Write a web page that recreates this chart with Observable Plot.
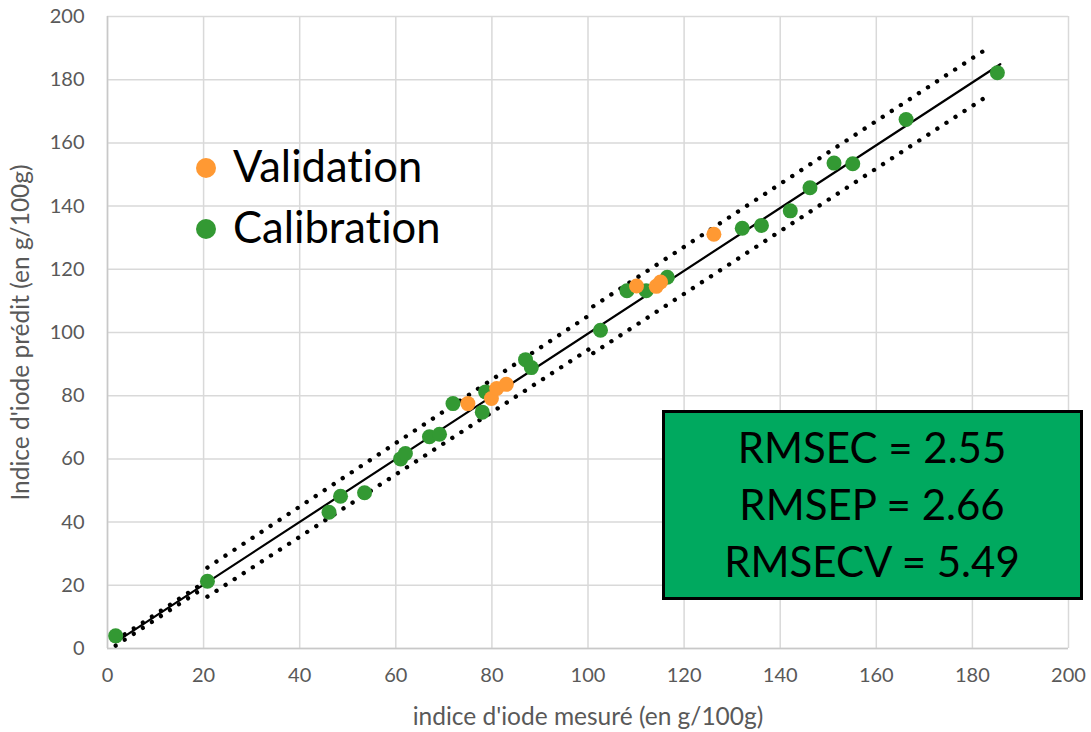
<!DOCTYPE html>
<html>
<head>
<meta charset="utf-8">
<script src="https://cdn.jsdelivr.net/npm/d3@7"></script>
<script src="https://cdn.jsdelivr.net/npm/@observablehq/plot@0.6"></script>
<style>
  html, body { margin: 0; padding: 0; background: #fff; }
  #wrap { position: relative; width: 1091px; height: 732px; }
  #wrap svg, #wrap svg text {
    font-variant-ligatures: none;
    font-feature-settings: "liga" 0, "clig" 0, "dlig" 0;
  }
  #wrap svg.overlay { position: absolute; left: 0; top: 0; pointer-events: none; }
</style>
</head>
<body>
<div id="wrap"></div>
<script>
// Calibration samples: measured vs predicted iodine value (g/100g)
const calMeasured  = [1.7, 20.8, 46.1, 48.5, 53.5, 61.0, 62.0, 67.0, 69.1, 71.9, 78.0, 78.7, 87.0, 88.2,
                      102.6, 108.1, 112.1, 116.5, 132.1, 136.1, 142.1, 146.2, 151.2, 155.1, 166.2, 185.2];
const calPredicted = [4.0, 21.3, 43.1, 48.2, 49.3, 60.0, 61.7, 67.0, 67.8, 77.5, 74.8, 81.2, 91.4, 88.9,
                      100.7, 113.2, 113.2, 117.5, 133.0, 133.9, 138.5, 145.8, 153.6, 153.4, 167.4, 182.2];

// Validation samples
const valMeasured  = [75.0, 79.9, 81.0, 83.0, 110.1, 114.2, 115.1, 126.2];
const valPredicted = [77.5, 79.1, 82.3, 83.6, 114.7, 114.6, 116.0, 131.1];

// Regression line endpoints
const fitX = [1.7, 185.8];
const fitY = [2.0, 184.9];

// Dotted confidence band, drawn as straight pieces (x1, y1) -> (x2, y2)
const bandX1 = [1.7, 1.7, 20.8, 20.8, 101.1, 101.1];
const bandY1 = [2.6, 0.9, 25.6, 16.4, 108.3, 93.5];
const bandX2 = [19.8, 19.8, 100.2, 100.2, 183.1, 183.1];
const bandY2 = [20.6, 18.9, 105.4, 94.7, 189.9, 174.8];

const ticks = [0, 20, 40, 60, 80, 100, 120, 140, 160, 180, 200];

const seriesNames = ["Validation", "Calibration"];
const seriesColors = ["#ff9933", "#339933"];
const statLines = ["RMSEC = 2.55", "RMSEP = 2.66", "RMSECV = 5.49"];

const xLabel = "indice d'iode mesuré (en g/100g)";
const yLabel = "Indice d'iode prédit (en g/100g)";

const calibration = calMeasured.map((x, i) => ({x, y: calPredicted[i]}));
const validation = valMeasured.map((x, i) => ({x, y: valPredicted[i]}));
const fit = fitX.map((x, i) => ({x, y: fitY[i]}));
const band = bandX1.map((x1, i) => ({x1, y1: bandY1[i], x2: bandX2[i], y2: bandY2[i]}));

const W = 1091, H = 732;
const font = "Lato, 'Open Sans', sans-serif";
const grey = "#595959";

const chart = Plot.plot({
  width: W,
  height: H,
  marginLeft: 107,
  marginRight: 23,
  marginTop: 16,
  marginBottom: 84,
  style: {fontFamily: font, background: "#fff", overflow: "visible"},
  x: {domain: [0, 200], ticks},
  y: {domain: [0, 200], ticks},
  marks: [
    Plot.gridX(ticks, {stroke: "#d9d9d9", strokeOpacity: 1, strokeWidth: 1.5}),
    Plot.gridY(ticks, {stroke: "#d9d9d9", strokeOpacity: 1, strokeWidth: 1.5}),
    Plot.ruleX([0], {stroke: "#c8c8c8", strokeWidth: 1.5}),
    Plot.ruleY([0], {stroke: "#c8c8c8", strokeWidth: 1.5}),
    Plot.axisX(ticks, {tickSize: 0, tickPadding: 19, fontSize: 20, fill: grey, label: null}),
    Plot.axisY(ticks, {tickSize: 0, tickPadding: 23, fontSize: 20, fill: grey, label: null}),
    Plot.text([xLabel], {frameAnchor: "bottom", dy: 69, textAnchor: "middle", lineAnchor: "middle",
                         fontSize: 24.5, fill: grey}),
    Plot.text([yLabel], {frameAnchor: "left", dx: -86, rotate: -90, textAnchor: "middle", lineAnchor: "middle",
                         fontSize: 24.5, fill: grey}),
    Plot.link(band, {x1: "x1", y1: "y1", x2: "x2", y2: "y2", stroke: "#000", strokeWidth: 4.4,
                     strokeDasharray: "0.01 10.8", strokeLinecap: "round"}),
    Plot.line(fit, {x: "x", y: "y", stroke: "#000", strokeWidth: 2.2}),
    Plot.dot(calibration, {x: "x", y: "y", r: 7.5, fill: seriesColors[1]}),
    Plot.dot(validation, {x: "x", y: "y", r: 7.5, fill: seriesColors[0]})
  ]
});

const wrap = document.getElementById("wrap");
wrap.appendChild(chart);

// Legend and statistics box drawn on top of the chart
const over = d3.select(wrap).append("svg")
  .attr("class", "overlay")
  .attr("width", W).attr("height", H)
  .style("font-family", font);

const legend = over.append("g");
seriesNames.forEach((name, i) => {
  const cy = 168 + i * 61;
  legend.append("circle").attr("cx", 206).attr("cy", cy).attr("r", 10).attr("fill", seriesColors[i]);
  legend.append("text").attr("x", 233).attr("y", cy + 14)
    .attr("font-size", 43.5).attr("fill", "#000").text(name);
});

const box = over.append("g");
box.append("rect").attr("x", 663.5).attr("y", 411.5).attr("width", 418).attr("height", 187)
  .attr("fill", "#00a95f").attr("stroke", "#000").attr("stroke-width", 3);
statLines.forEach((s, i) => {
  box.append("text").attr("x", 872).attr("y", 463 + i * 56.8)
    .attr("text-anchor", "middle").attr("font-size", 42).attr("fill", "#000").text(s);
});
</script>
</body>
</html>
